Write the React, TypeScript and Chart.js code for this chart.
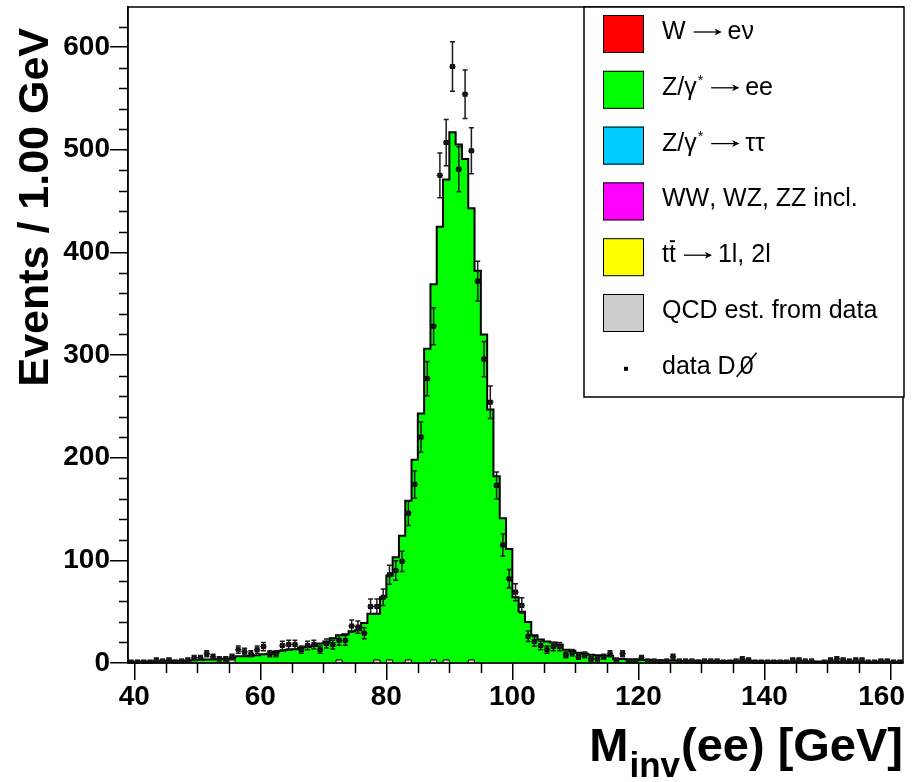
import React, { useEffect, useRef } from 'react';
import { Chart, registerables } from 'chart.js';

Chart.register(...registerables);

// ---- binning (1 GeV bins, first bin starts at 39 GeV) ----
const BIN_START = 39;
const BIN_WIDTH = 1;

// total stacked MC (dominated by Z/gamma* -> ee), bins 39..161
const mcTotal: number[] = [
  1.2, 1.3, 1.4, 1.5, 1.7, 1.8, 2.0, 2.1, 2.3, 2.5,
  2.8, 3.0, 3.3, 3.5, 3.8, 4.2, 4.5, 6.5, 6.5, 7.0,
  7.5, 8.5, 9.0, 11, 12, 13, 13.5, 15, 15.5, 16.5,
  19, 21, 24, 27, 28, 31, 32, 39, 48, 48,
  64, 85, 103, 124, 158, 198, 243, 306, 369, 425,
  471, 517, 505, 491, 443, 382, 320, 247, 182, 141,
  111, 64, 50, 40, 27, 23, 21, 20, 18, 13,
  12, 10, 9, 8, 7.5, 7, 7, 4, 3.8, 3.5,
  3.3, 3.0, 2.9, 2.8, 2.6, 2.5, 2.4, 2.3, 2.2, 2.2,
  2.1, 2.1, 2.0, 2.0, 1.9, 1.9, 1.8, 1.8, 1.7, 1.7,
  1.7, 1.6, 1.6, 1.6, 1.5, 1.5, 1.5, 1.5, 1.4, 1.4,
  1.4, 1.4, 1.3, 1.3, 1.3, 1.3, 1.3, 1.2, 1.2, 1.2,
  1.2, 1.2, 1.1,
];

// QCD estimate from data (bottom of stack), bins 39..161
const qcdEstimate: number[] = [
  0, 0, 0, 0, 0, 0, 0, 0, 0, 0,
  0, 0, 0, 0, 0, 0, 3, 0, 0, 0,
  0, 0, 0, 0, 0, 0, 0, 0, 0, 0,
  0, 0, 0, 3, 0, 0, 0, 0, 0, 3,
  0, 3, 0, 0, 3, 0, 0, 0, 3, 0,
  3, 0, 0, 0, 3, 0, 0, 0, 0, 0,
  0, 0, 0, 0, 0, 0, 0, 0, 0, 0,
  0, 0, 0, 0, 0, 0, 0, 0, 0, 0,
  0, 0, 0, 0, 0, 0, 0, 0, 0, 0,
  0, 0, 0, 0, 0, 0, 0, 0, 0, 0,
  0, 0, 0, 0, 0, 0, 0, 0, 0, 0,
  0, 0, 0, 0, 0, 0, 0, 0, 0, 0,
  0, 0, 0,
];

// observed data counts, bins 39..161
const dataCounts: number[] = [
  1, 1, 1, 1, 3, 2, 3, 1, 2, 3,
  5, 5, 9, 6, 4, 4, 6, 13, 11, 9,
  13, 16, 9, 9, 17, 18, 18, 13, 17, 18,
  13, 19, 18, 22, 22, 36, 35, 29, 55, 55,
  64, 86, 90, 99, 146, 174, 220, 277, 328, 475,
  507, 581, 481, 554, 499, 372, 296, 254, 173, 115,
  82, 69, 56, 26, 21, 17, 13, 16, 16, 8,
  10, 6, 8, 4, 4, 6, 9, 3, 9, 2,
  2, 5, 2, 2, 1, 2, 6, 2, 2, 2,
  1, 2, 2, 2, 1, 1, 2, 4, 3, 1,
  1, 1, 1, 1, 1, 3, 3, 2, 2, 0,
  1, 3, 4, 3, 2, 3, 3, 1, 1, 2,
  2, 1, 1,
];

// ---- axes ----
const X_MIN = 39;
const X_MAX = 162;
const Y_MIN = 0;
const Y_MAX = 639;
const xTickValues = [40, 60, 80, 100, 120, 140, 160];
const xTickLabels = ['40', '60', '80', '100', '120', '140', '160'];
const yTickValues = [0, 100, 200, 300, 400, 500, 600];
const yTickLabels = ['0', '100', '200', '300', '400', '500', '600'];
const xMinorStep = 5;
const yMinorStep = 20;

const yTitle = 'Events / 1.00 GeV';
const xTitleMain = 'M';
const xTitleSub = 'inv';
const xTitleRest = '(ee) [GeV]';

// ---- legend ----
const legendLabels = [
  'W \u2192 e\u03bd',
  'Z/\u03b3* \u2192 ee',
  'Z/\u03b3* \u2192 \u03c4\u03c4',
  'WW, WZ, ZZ incl.',
  'tt\u0305 \u2192 1l, 2l',
  'QCD est. from data',
  'data D\u2205',
];
const legendColors = ['#ff0000', '#00ff00', '#00ccff', '#ff00ff', '#ffff00', '#cccccc', ''];

const FONT = "'Liberation Sans', Arial, Helvetica, sans-serif";

function stepPoints(values: number[]) {
  const pts: { x: number; y: number }[] = [{ x: BIN_START, y: 0 }];
  values.forEach((v, i) => pts.push({ x: BIN_START + i * BIN_WIDTH, y: v }));
  pts.push({ x: BIN_START + values.length * BIN_WIDTH, y: 0 });
  return pts;
}

const dataPoints = dataCounts
  .map((n, i) => ({ x: BIN_START + (i + 0.5) * BIN_WIDTH, y: n }))
  .filter((p) => p.y > 0);

const BIG = `25px ${FONT}`;
const SMALL = `14px ${FONT}`;

// draws a plain text run, handling "*" superscripts and the overbar mark
function drawRun(ctx: CanvasRenderingContext2D, text: string, x: number, y: number): number {
  let cx = x;
  let i = 0;
  while (i < text.length) {
    const ch = text[i];
    if (ch === '*') {
      ctx.font = SMALL;
      ctx.fillText('*', cx + 1, y - 10);
      cx += ctx.measureText('*').width + 1;
      i++;
      continue;
    }
    if (ch === '\u2205') {
      // slashed-zero style empty-set sign
      ctx.font = BIG;
      const w0 = ctx.measureText('0').width;
      ctx.fillText('0', cx + 4, y);
      ctx.strokeStyle = '#000';
      ctx.lineWidth = 1.6;
      ctx.beginPath();
      ctx.moveTo(cx + 1, y + 3);
      ctx.lineTo(cx + w0 + 7, y - 21);
      ctx.stroke();
      cx += w0 + 8;
      i++;
      continue;
    }
    ctx.font = BIG;
    if (text[i + 1] === '\u0305') {
      const w = ctx.measureText(ch).width;
      ctx.fillText(ch, cx, y);
      ctx.strokeStyle = '#000';
      ctx.lineWidth = 2;
      ctx.beginPath();
      ctx.moveTo(cx + 1, y - 21);
      ctx.lineTo(cx + w - 1, y - 21);
      ctx.stroke();
      cx += w;
      i += 2;
      continue;
    }
    ctx.fillText(ch, cx, y);
    cx += ctx.measureText(ch).width;
    i++;
  }
  return cx;
}

function drawLegendText(ctx: CanvasRenderingContext2D, label: string, x: number, y: number) {
  ctx.fillStyle = '#000';
  ctx.textAlign = 'left';
  ctx.textBaseline = 'alphabetic';
  const parts = label.split(' \u2192 ');
  let cx = drawRun(ctx, parts[0], x, y);
  for (let k = 1; k < parts.length; k++) {
    // long thin arrow (ROOT #rightarrow)
    const ax0 = cx + 8;
    const ax1 = ax0 + 28;
    const ay = y - 7;
    ctx.strokeStyle = '#000';
    ctx.lineWidth = 1.3;
    ctx.beginPath();
    ctx.moveTo(ax0, ay);
    ctx.lineTo(ax1 - 1, ay);
    ctx.stroke();
    ctx.beginPath();
    ctx.moveTo(ax1, ay);
    ctx.lineTo(ax1 - 7, ay - 3.5);
    ctx.lineTo(ax1 - 5, ay);
    ctx.lineTo(ax1 - 7, ay + 3.5);
    ctx.closePath();
    ctx.fillStyle = '#000';
    ctx.fill();
    cx = drawRun(ctx, parts[k], ax1 + 6, y);
  }
}

const rootStyle = {
  id: 'rootStyle',
  afterDatasetsDraw(chart: any) {
    const ctx: CanvasRenderingContext2D = chart.ctx;
    const xs = chart.scales.x;
    const ys = chart.scales.y;
    ctx.save();
    ctx.strokeStyle = '#1a1a1a';
    ctx.lineWidth = 1.5;
    ctx.beginPath();
    dataPoints.forEach((p) => {
      const err = Math.sqrt(p.y);
      const px = xs.getPixelForValue(p.x);
      const py = ys.getPixelForValue(p.y);
      const top = ys.getPixelForValue(p.y + err);
      const bot = ys.getPixelForValue(Math.max(0, p.y - err));
      const l = xs.getPixelForValue(p.x - BIN_WIDTH / 2);
      const r = xs.getPixelForValue(p.x + BIN_WIDTH / 2);
      ctx.moveTo(px, top);
      ctx.lineTo(px, bot);
      ctx.moveTo(l, py);
      ctx.lineTo(r, py);
      ctx.moveTo(px - 2.5, top);
      ctx.lineTo(px + 2.5, top);
      ctx.moveTo(px - 2.5, bot);
      ctx.lineTo(px + 2.5, bot);
    });
    ctx.stroke();
    ctx.restore();
  },
  afterDraw(chart: any) {
    const ctx: CanvasRenderingContext2D = chart.ctx;
    const a = chart.chartArea;
    const xs = chart.scales.x;
    const ys = chart.scales.y;
    ctx.save();
    // frame
    ctx.strokeStyle = '#000';
    ctx.lineWidth = 1.5;
    ctx.strokeRect(a.left, a.top, a.right - a.left, a.bottom - a.top);
    // minor ticks
    ctx.beginPath();
    for (let v = Y_MIN + yMinorStep; v < Y_MAX; v += yMinorStep) {
      if (yTickValues.includes(v)) continue;
      const py = Math.round(ys.getPixelForValue(v)) + 0.5;
      ctx.moveTo(a.left, py);
      ctx.lineTo(a.left - 9, py);
    }
    for (let v = xTickValues[0]; v <= X_MAX; v += xMinorStep) {
      if (v < X_MIN || xTickValues.includes(v)) continue;
      const px = Math.round(xs.getPixelForValue(v)) + 0.5;
      ctx.moveTo(px, a.bottom);
      ctx.lineTo(px, a.bottom + 10);
    }
    ctx.stroke();

    // x tick labels (last label kept inside the pad, as ROOT does)
    ctx.font = `bold 28px ${FONT}`;
    ctx.fillStyle = '#000';
    ctx.textAlign = 'center';
    ctx.textBaseline = 'alphabetic';
    xTickValues.forEach((v, i) => {
      const w = ctx.measureText(xTickLabels[i]).width;
      let px = xs.getPixelForValue(v);
      if (px + w / 2 > a.right + 2) px = a.right + 2 - w / 2;
      ctx.fillText(xTickLabels[i], px, 705);
    });

    // y title
    ctx.save();
    ctx.translate(48, 28);
    ctx.rotate(-Math.PI / 2);
    ctx.font = `bold 43px ${FONT}`;
    ctx.fillStyle = '#000';
    ctx.textAlign = 'right';
    ctx.textBaseline = 'alphabetic';
    ctx.fillText(yTitle, 0, 0);
    ctx.restore();

    // x title (right aligned to frame)
    ctx.fillStyle = '#000';
    ctx.textBaseline = 'alphabetic';
    ctx.textAlign = 'right';
    ctx.font = `bold 47px ${FONT}`;
    const restW = ctx.measureText(xTitleRest).width;
    ctx.fillText(xTitleRest, a.right, 761);
    ctx.font = `bold 35px ${FONT}`;
    const subW = ctx.measureText(xTitleSub).width;
    ctx.fillText(xTitleSub, a.right - restW - 1, 777);
    ctx.font = `bold 47px ${FONT}`;
    ctx.fillText(xTitleMain, a.right - restW - subW - 2, 761);

    // legend
    const lx = 584, ly = a.top, lw = 320, lh = 390;
    ctx.fillStyle = '#fff';
    ctx.fillRect(lx, ly, lw, lh);
    ctx.strokeStyle = '#000';
    ctx.lineWidth = 1.5;
    ctx.strokeRect(lx, ly, lw, lh);
    const rowH = 55.8;
    legendLabels.forEach((label, i) => {
      const cy = 34 + i * rowH;
      const col = legendColors[i];
      if (col) {
        ctx.fillStyle = col;
        ctx.fillRect(603, cy - 19, 41, 38);
        ctx.strokeStyle = '#000';
        ctx.lineWidth = 1;
        ctx.strokeRect(603.5, cy - 18.5, 40, 37);
      } else {
        ctx.fillStyle = '#000';
        ctx.fillRect(624, cy - 2, 4, 4);
      }
      drawLegendText(ctx, label, 662, cy + 5);
    });
    ctx.restore();
  },
};

export default function App() {
  const ref = useRef<HTMLCanvasElement | null>(null);
  useEffect(() => {
    if (!ref.current) return;
    const tickFont = { family: FONT, size: 28, weight: 'bold' as const };
    const chart = new Chart(ref.current, {
      type: 'line',
      data: {
        datasets: [
          {
            type: 'scatter',
            label: 'data D\u2205',
            data: dataPoints,
            pointStyle: 'rect',
            pointRadius: 3.5,
            pointBackgroundColor: '#000',
            pointBorderColor: '#000',
            pointBorderWidth: 0,
            showLine: false,
            order: 0,
          } as any,
          {
            type: 'line',
            label: 'QCD est. from data',
            data: stepPoints(qcdEstimate),
            stepped: 'before',
            fill: 'origin',
            backgroundColor: '#d6cfb8',
            borderColor: '#000',
            borderWidth: 1,
            pointRadius: 0,
            order: 1,
          },
          {
            type: 'line',
            label: 'Z/\u03b3* \u2192 ee',
            data: stepPoints(mcTotal),
            stepped: 'before',
            fill: 'origin',
            backgroundColor: '#00ff00',
            borderColor: '#000',
            borderWidth: 2,
            pointRadius: 0,
            order: 2,
          },
        ],
      },
      options: {
        responsive: false,
        animation: false,
        devicePixelRatio: 1,
        layout: { padding: { left: 0, top: 7, right: 16, bottom: 0 } },
        plugins: { legend: { display: false }, tooltip: { enabled: false } },
        scales: {
          x: {
            type: 'linear',
            min: X_MIN,
            max: X_MAX,
            afterFit: (s: any) => { s.height = 119; s.paddingLeft = 0; s.paddingRight = 0; },
            afterBuildTicks: (s: any) => { s.ticks = xTickValues.map((value) => ({ value })); },
            ticks: { display: false, autoSkip: false, maxRotation: 0 },
            grid: { display: true, drawOnChartArea: false, drawTicks: true, tickLength: 17, color: '#000', lineWidth: 1.5 },
            border: { display: true, color: '#000', width: 1.5 },
          },
          y: {
            type: 'linear',
            min: Y_MIN,
            max: Y_MAX,
            afterFit: (s: any) => { s.width = 128; s.paddingTop = 0; s.paddingBottom = 0; },
            afterBuildTicks: (s: any) => { s.ticks = yTickValues.map((value) => ({ value })); },
            ticks: {
              callback: (_v: any, i: number) => yTickLabels[i],
              font: tickFont,
              color: '#000',
              padding: 0,
              autoSkip: false,
            },
            grid: { display: true, drawOnChartArea: false, drawTicks: true, tickLength: 18, color: '#000', lineWidth: 1.5 },
            border: { display: true, color: '#000', width: 1.5 },
          },
        },
      },
      plugins: [rootStyle],
    });
    return () => chart.destroy();
  }, []);
  return (
    <div style={{ position: 'fixed', left: 0, top: 0, width: 919, height: 782, background: '#fff' }}>
      <canvas ref={ref} width={919} height={782} style={{ display: 'block', width: 919, height: 782 }} />
    </div>
  );
}
